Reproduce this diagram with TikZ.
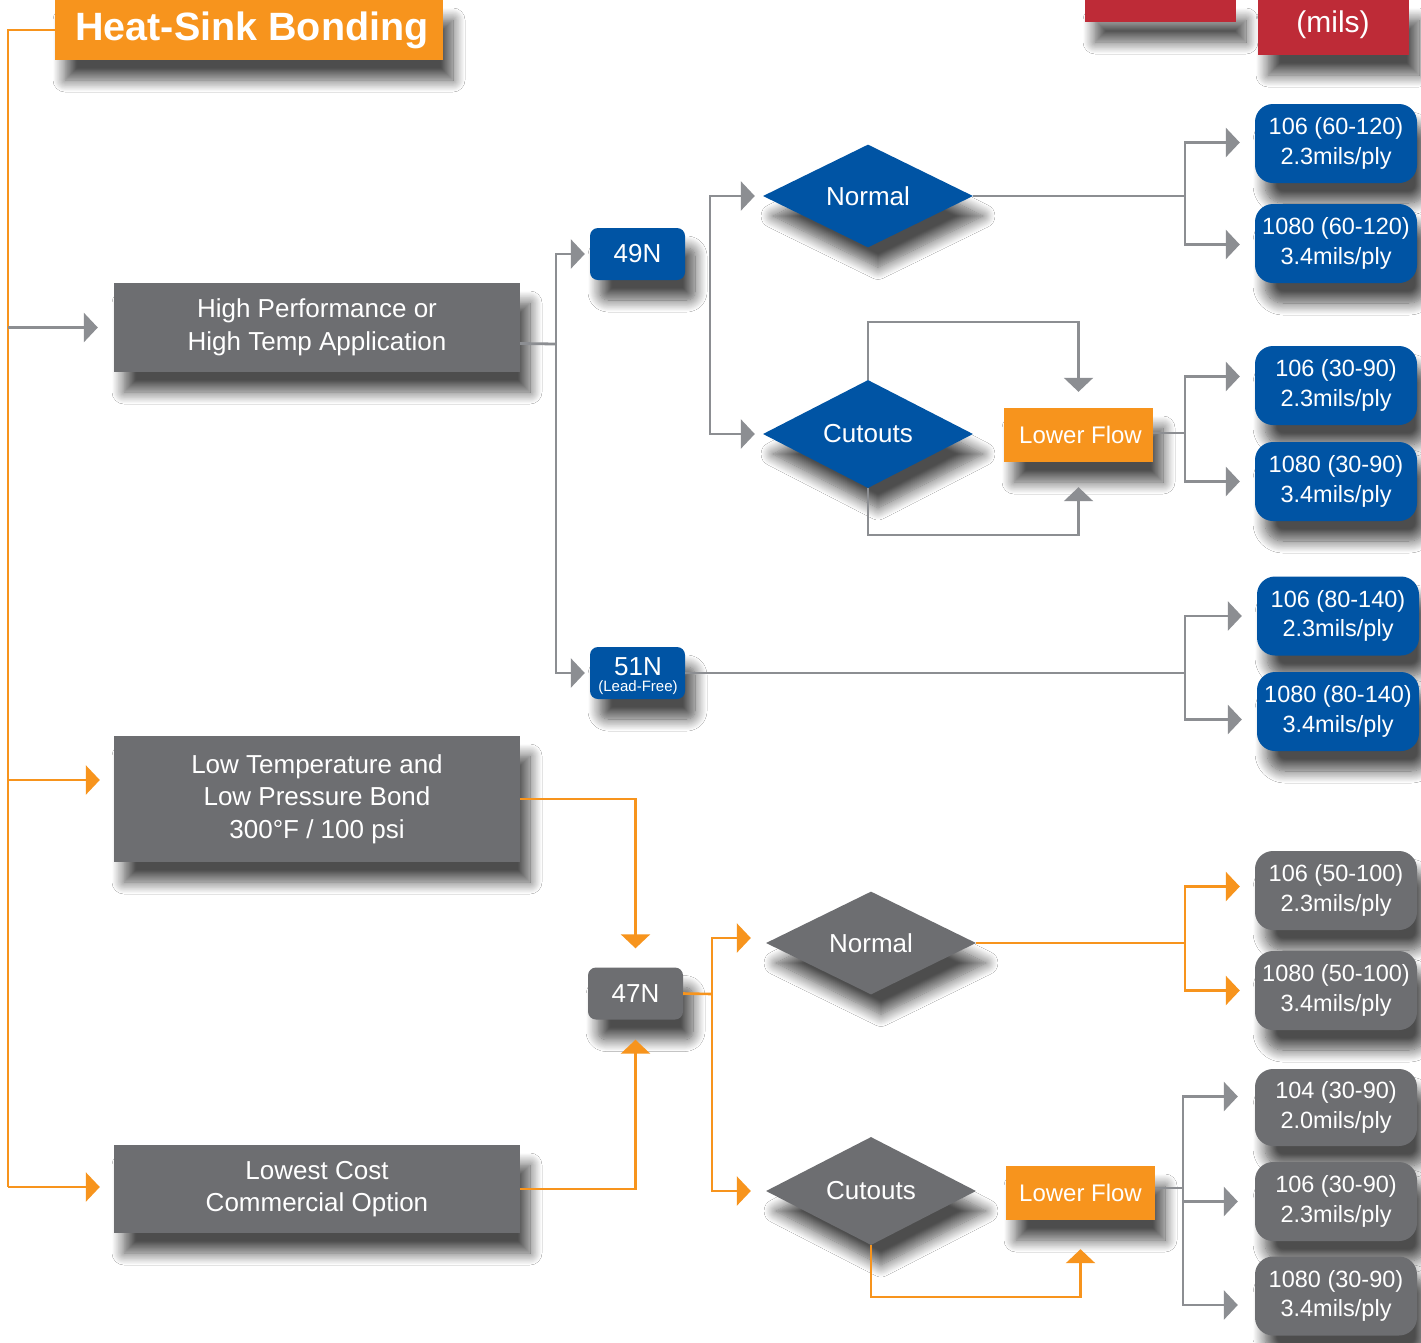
\documentclass[tikz,border=0pt]{standalone}
\usepackage{fontspec}
\setmainfont{Liberation Sans}
\usetikzlibrary{shapes.geometric,arrows.meta,shadows.blur,calc}
\definecolor{cblue}{HTML}{0054A4}
\definecolor{cgray}{HTML}{6D6E71}
\definecolor{corange}{HTML}{F7941D}
\definecolor{cred}{HTML}{BE2B37}
\definecolor{cline}{HTML}{8C8E92}
\tikzset{
  shd/.style={blur shadow={shadow xshift=10pt,shadow yshift=-20pt,shadow blur radius=12pt,shadow blur steps=14,shadow opacity=70}},
  bigbox/.style={fill=cgray,text=white,minimum width=406pt,inner sep=0pt,align=center,font=\fontsize{26}{32.5}\selectfont,shd},
  resbox/.style={rounded corners=18pt,minimum width=162pt,minimum height=79pt,inner sep=0pt,text=white,align=center,font=\fontsize{23.5}{29.5}\selectfont,shd},
  bluebox/.style={resbox,fill=cblue},
  graybox/.style={resbox,fill=cgray},
  decbox/.style={diamond,minimum width=210pt,minimum height=98pt,inner sep=0pt,text=white,font=\fontsize{26}{30}\selectfont,shd},
  flowbox/.style={fill=corange,text=white,minimum width=149pt,minimum height=54pt,inner sep=0pt,font=\fontsize{24}{28}\selectfont,shd},
  codebox/.style={rounded corners=8pt,minimum width=95pt,minimum height=52pt,inner sep=0pt,text=white,align=center,font=\fontsize{26}{30}\selectfont,shd},
  redbox/.style={fill=cred,inner sep=0pt,shd},
  gline/.style={draw=cline,line width=2.8pt},
  oline/.style={draw=corange,line width=2.6pt},
  garr/.style={gline,-{Triangle[length=14pt,width=29pt]}},
  oarr/.style={oline,-{Triangle[length=14pt,width=29pt]}},
}
\begin{document}
\begin{tikzpicture}[x=1pt,y=-1pt]
\useasboundingbox (0,0) rectangle (1421,1342);
\fill[white] (0,0) rectangle (1421,1342);

% header boxes
\node[redbox,minimum width=151pt,minimum height=22pt] (red1) at (1160.5,11) {};
\node[redbox,minimum width=151pt,minimum height=55pt] (red2) at (1333.5,27.5) {};
\node[text=white,inner sep=0pt,font=\fontsize{30}{30}\selectfont] (mils) at (1333,25) {(mils)};
\node[fill=corange,text=white,minimum width=388pt,minimum height=60pt,inner sep=0pt,font=\bfseries\fontsize{39.5}{39.5}\selectfont,shd] (hs) at (249,30) {\hspace{6pt}Heat-Sink Bonding};

% application boxes
\node[bigbox,minimum height=89pt] (hp) at (317,327.5) {High Performance or\\High Temp Application};
\node[bigbox,minimum height=126pt] (lt) at (317,799) {Low Temperature and\\Low Pressure Bond\\300°F / 100 psi};
\node[bigbox,minimum height=88pt] (lc) at (317,1189) {Lowest Cost\\Commercial Option};

% resin codes
\node[codebox,fill=cblue] (n49) at (637.5,254) {49N};
\node[codebox,fill=cblue,minimum height=52pt] (n51) at (637.5,673) {};
\node[text=white,inner sep=0pt,font=\fontsize{26}{26}\selectfont] (t51) at (638,667) {51N};
\node[text=white,inner sep=0pt,font=\fontsize{15}{15}\selectfont] (t51b) at (638,688) {(Lead-Free)};
\node[codebox,fill=cgray] (n47) at (635.5,993.5) {47N};

% decisions
\node[decbox,fill=cblue] (nor1) at (868,196) {Normal};
\node[decbox,fill=cblue] (cut1) at (868,434) {Cutouts};
\node[decbox,fill=cgray] (nor2) at (871,943) {Normal};
\node[decbox,fill=cgray] (cut2) at (871,1191) {Cutouts};
\node[flowbox] (lf1) at (1078.5,435) {\hspace{4pt}Lower Flow};
\node[flowbox] (lf2) at (1080.5,1193) {Lower Flow};

% results
\node[bluebox] (r1) at (1336,143.5) {106 (60-120)\\2.3mils/ply};
\node[bluebox] (r2) at (1336,243.5) {1080 (60-120)\\3.4mils/ply};
\node[bluebox] (r3) at (1336,385.5) {106 (30-90)\\2.3mils/ply};
\node[bluebox] (r4) at (1336,481.5) {1080 (30-90)\\3.4mils/ply};
\node[bluebox] (r5) at (1338,616) {106 (80-140)\\2.3mils/ply};
\node[bluebox] (r6) at (1338,711.5) {1080 (80-140)\\3.4mils/ply};
\node[graybox] (g1) at (1336,890.5) {106 (50-100)\\2.3mils/ply};
\node[graybox] (g2) at (1336,990.5) {1080 (50-100)\\3.4mils/ply};
\node[graybox,minimum height=77pt] (g3) at (1336,1107.5) {104 (30-90)\\2.0mils/ply};
\node[graybox] (g4) at (1336,1201.5) {106 (30-90)\\2.3mils/ply};
\node[graybox] (g5) at (1336,1296) {1080 (30-90)\\3.4mils/ply};

% coordinates
\coordinate (sp1) at (8,30);
\coordinate (sp2) at (8,1187);
\coordinate (b1) at (556,344);
\coordinate (b2) at (710,312);
\coordinate (b3) at (712,994);
\coordinate (c1) at (1185,196);
\coordinate (c2) at (1185,433);
\coordinate (c3) at (1185,673);
\coordinate (c4) at (1185,943);
\coordinate (c5) at (1183,1188);
\coordinate (lp1) at (1075,322);
\coordinate (lp2) at (1075,535);
\coordinate (lp3) at (1077,1297);

% left spine
\draw[oline] (hs.west) -- (sp1) -- (sp2);
\draw[garr,shorten >=16pt] (sp1 |- hp.west) -- (hp.west);
\draw[oarr,shorten >=14pt] ([yshift=19pt]lt.west -| sp1) -- ([yshift=19pt]lt.west);
\draw[oarr,shorten >=14pt] (sp2) -- (sp2 -| lc.west);

% high performance branch
\draw[gline] ([yshift=-16pt]hp.east) -- (b1);
\draw[garr,shorten >=5pt] (b1) |- (n49.west);
\draw[garr,shorten >=5pt] (b1) |- (n51.west);
\draw[garr,shorten >=8pt] (b2) |- (nor1.west);
\draw[garr,shorten >=8pt] (b2) |- (cut1.west);
\draw[gline] (nor1.east) -- (c1);
\draw[garr,shorten >=15pt] (c1) |- ([yshift=1pt]r1.west);
\draw[garr,shorten >=15pt] (c1) |- ([yshift=-1pt]r2.west);
\draw[gline,line width=2.4pt,-{Triangle[length=14pt,width=29pt]},shorten >=16pt] (cut1.north) |- (lp1) -| (lf1.north);
\draw[gline,line width=2.4pt,-{Triangle[length=14pt,width=29pt]},shorten >=25pt] (cut1.south) |- (lp2) -| (lf1.south);
\draw[gline] (c2 -| lf1.east) -- (c2);
\draw[garr,shorten >=15pt] (c2) |- ([yshift=9pt]r3.west);
\draw[garr,shorten >=15pt] (c2) |- (r4.west);
\draw[gline] (n51.east) -- (c3);
\draw[garr,shorten >=15pt] (c3) |- (r5.west);
\draw[garr,shorten >=15pt] (c3) |- ([yshift=-8pt]r6.west);

% low temperature / lowest cost branch
\draw[oarr,shorten >=19pt] (lt.east) -| (n47.north);
\draw[oarr,shorten >=20pt] (lc.east) -| (n47.south);
\draw[oline] (n47.east) -- (b3);
\draw[oarr,shorten >=15pt] (b3) |- ([yshift=5pt]nor2.west);
\draw[oarr,shorten >=15pt] (b3) |- (cut2.west);
\draw[oline] (nor2.east) -- (c4);
\draw[oarr,shorten >=15pt] (c4) |- ([yshift=4pt]g1.west);
\draw[oarr,shorten >=15pt] (c4) |- (g2.west);
\draw[oarr,shorten >=29pt] (cut2.south) |- (lp3) -| (lf2.south);
\draw[gline] (c5 -| lf2.east) -- (c5);
\draw[garr,shorten >=17pt] (c5) |- ([yshift=11pt]g3.west);
\draw[garr,shorten >=17pt] (c5) |- (g4.west);
\draw[garr,shorten >=17pt] (c5) |- ([yshift=-9pt]g5.west);
\end{tikzpicture}
\end{document}
